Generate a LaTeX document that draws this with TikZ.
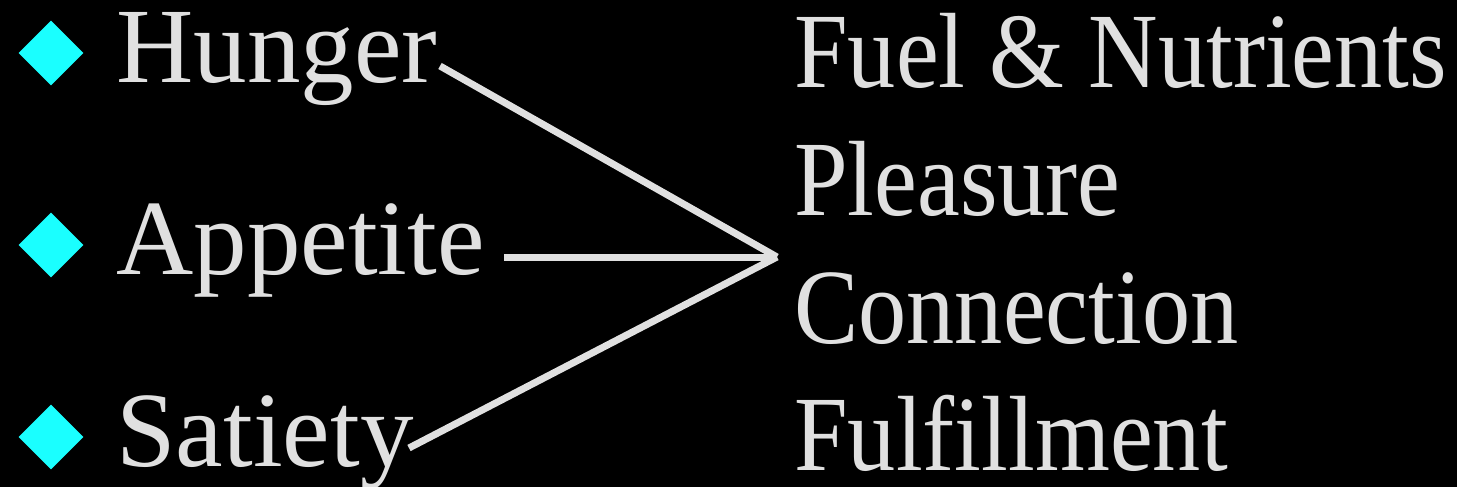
\documentclass[tikz,border=0pt]{standalone}
\usepackage{fontspec}
\setmainfont{Liberation Serif}
\newfontfamily\narrowserif{Liberation Serif}[FakeStretch=0.9]
\usetikzlibrary{shapes.geometric}
\definecolor{slidegray}{HTML}{E0E0E0}
\definecolor{slidecyan}{HTML}{1AFFFF}
\tikzset{
  word/.style={anchor=base west, inner sep=0pt, text=slidegray, text depth=0pt,
    font=\fontsize{53.5}{60}\selectfont},
  narrowword/.style={word, font=\fontsize{53.5}{60}\narrowserif},
  bullet/.style={diamond, fill=slidecyan, inner sep=0pt, minimum width=32.5pt, minimum height=32.5pt},
  link/.style={draw=slidegray, line width=3.5pt}
}
\begin{document}
\begin{tikzpicture}[x=0.5pt, y=-0.5pt]
\fill[black] (0,0) rectangle (1457,487);
\useasboundingbox (0,0) rectangle (1457,487);

% left column: diamond bullets and the three drives
\foreach \name/\txt/\h in {hunger/Hunger/82, appetite/Appetite/274, satiety/Satiety/466} {
  \node[bullet] (b-\name) at (51, \h-29) {};
  \node[word] (\name) at (116, \h) {\txt};
}

% right column: what eating gives
\foreach \name/\txt/\h in {fuel/{Fuel \& Nutrients}/87, pleasure/Pleasure/215, connection/Connection/343, fulfil/Fulfillment/470} {
  \node[narrowword] (\name) at (794, \h) {\txt};
}

% the three lines meet in one point
\coordinate (meet) at (777, 257);
\coordinate (hunger-end) at (440, 66);
\coordinate (appetite-end) at (504, 257);
\coordinate (satiety-end) at (409, 448);
\draw[link] (hunger-end) -- (meet);
\draw[link] (appetite-end) -- (meet);
\draw[link] (satiety-end) -- (meet);
\end{tikzpicture}
\end{document}
